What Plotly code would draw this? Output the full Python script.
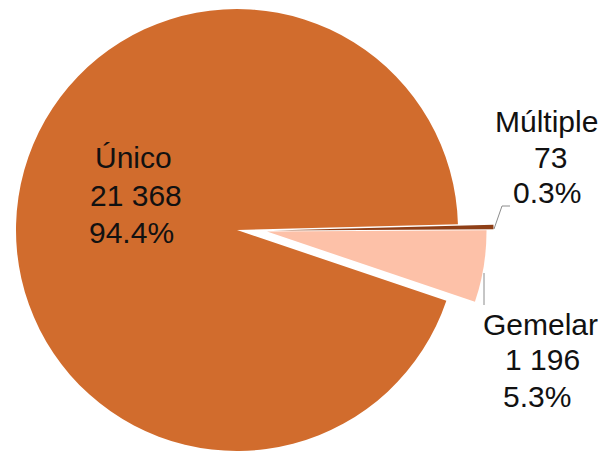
import plotly.graph_objects as go

# -------- Data --------
labels = ["Múltiple", "Gemelar", "Único"]
values = [73, 1196, 21368]
colors = ["#8E3F17", "#FDC1A8", "#D16C2D"]

# page body has an 8px margin, so the figure is drawn 8px in and sized to fit
OFF = 8
W, H = 606 - OFF, 451 - OFF
total = sum(values)
pcts = [v / total * 100 for v in values]


def fmt_num(v):
    return f"{v:,}".replace(",", " ")


def px(x):
    return (x - OFF) / W


def py(y):
    return 1 - (y - OFF) / H


# Each slice drawn as its own trace so it can be shifted ("pulled") without
# the pie shrinking to make room for the pull.
radius = 221
cx, cy = 237, 230   # in reference-picture pixels
shifts = {"Único": (0, 0), "Gemelar": (30, 3), "Múltiple": (36, 1)}

fig = go.Figure()
for i, name in enumerate(labels):
    dx, dy = shifts[name]
    x0, x1 = px(cx + dx - radius), px(cx + dx + radius)
    y0, y1 = py(cy + dy + radius), py(cy + dy - radius)
    slice_colors = [c if j == i else "rgba(0,0,0,0)" for j, c in enumerate(colors)]
    fig.add_trace(go.Pie(
        labels=labels,
        values=values,
        sort=False,
        direction="clockwise",
        rotation=88.5,
        marker=dict(colors=slice_colors, line=dict(width=0)),
        textinfo="none",
        hoverinfo="skip",
        showlegend=False,
        domain=dict(x=[max(x0, 0), min(x1, 1)], y=[max(y0, 0), min(y1, 1)]),
    ))

# Data labels: one annotation per line (x centre, baselines of the three lines)
label_pos = {
    "Único": ([133, 136, 131], [168, 206, 243]),
    "Múltiple": ([546, 550, 547], [132, 168, 203]),
    "Gemelar": ([540, 542, 537], [335, 370, 407]),
}
FS = 30
for name, v, p in zip(labels, values, pcts):
    xs, bases = label_pos[name]
    lines = [name, fmt_num(v), f"{p:.1f}%"]
    for t, lx, b in zip(lines, xs, bases):
        fig.add_annotation(
            x=px(lx), y=py(b - 0.36 * FS), xref="paper", yref="paper",
            text=t, showarrow=False, xanchor="center", yanchor="middle",
            font=dict(family="Liberation Sans, Arial", size=FS, color="#111111"),
        )

# Leader lines
fig.add_shape(type="path", xref="paper", yref="paper",
              path=f"M {px(494)} {py(229)} L {px(502)} {py(206)} L {px(510)} {py(206)}",
              line=dict(color="#8c8c8c", width=1))
fig.add_shape(type="line", xref="paper", yref="paper",
              x0=px(484), y0=py(273), x1=px(484), y1=py(305),
              line=dict(color="#8c8c8c", width=1))

fig.update_layout(
    width=W, height=H,
    margin=dict(l=0, r=0, t=0, b=0),
    paper_bgcolor="white",
    plot_bgcolor="white",
)

fig.write_html("out.html")
